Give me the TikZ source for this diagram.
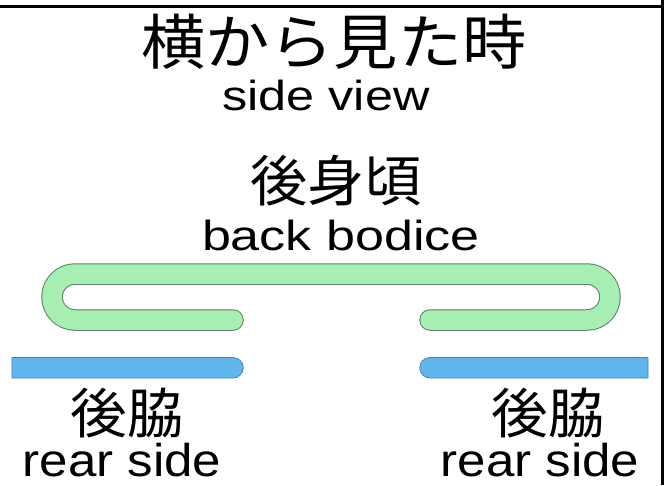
\documentclass[tikz,border=0pt]{standalone}
\usepackage{fontspec}
\setmainfont{Liberation Sans}
\newfontfamily\jp{Noto Sans CJK JP}
\definecolor{mint}{RGB}{166,238,178}
\definecolor{mintline}{RGB}{95,125,100}
\definecolor{sky}{RGB}{96,182,236}
\definecolor{skyline}{RGB}{70,130,185}
\tikzset{
  jplabel/.style={anchor=base,inner sep=0pt,font=\jp},
  enlabel/.style={anchor=base,inner sep=0pt},
}
\begin{document}
\begin{tikzpicture}[x=1pt,y=-1pt]
\useasboundingbox (0,0) rectangle (664,485);
% frame lines
\draw[line width=3pt] (0,6) -- (664,6);
\draw[line width=3pt] (662.5,0) -- (662.5,485);
% titles
\node[jplabel] (title) at (334,64) {\fontsize{60}{60}\selectfont\scalebox{1.07}[1]{横から見た時}};
\node[enlabel] (titleen) at (326,110) {\fontsize{42}{42}\selectfont\scalebox{1.2}[1]{side view}};
\node[jplabel] (back) at (336,201) {\fontsize{55}{55}\selectfont\scalebox{1.04}[1]{後身頃}};
\node[enlabel] (backen) at (341,250) {\fontsize{42}{42}\selectfont\scalebox{1.24}[1]{back bodice}};
% green back bodice fold
\def\bodice{(233,320) -- (75,320) arc[start angle=90,end angle=270,radius=23] -- (587,274) arc[start angle=-90,end angle=90,radius=23] -- (430,320)}
\draw[mintline,line width=21.5pt,line cap=round,line join=round] \bodice;
\draw[mint,line width=19.5pt,line cap=round,line join=round] \bodice;
% blue rear side bars
\draw[skyline,fill=sky,line width=0.8pt] (12,357.5) -- (233,357.5) arc[start angle=-90,end angle=90,radius=10.25] -- (12,378) -- cycle;
\draw[skyline,fill=sky,line width=0.8pt] (648,357.5) -- (430,357.5) arc[start angle=270,end angle=90,radius=10.25] -- (648,378) -- cycle;
% bottom labels
\node[jplabel] (l1) at (127,433) {\fontsize{54}{54}\selectfont\scalebox{1.05}[1]{後脇}};
\node[enlabel] (l2) at (122,476) {\fontsize{46}{46}\selectfont\scalebox{1.11}[1]{rear side}};
\node[jplabel] (r1) at (548,433) {\fontsize{54}{54}\selectfont\scalebox{1.05}[1]{後脇}};
\node[enlabel] (r2) at (540,476) {\fontsize{46}{46}\selectfont\scalebox{1.11}[1]{rear side}};
\end{tikzpicture}
\end{document}
